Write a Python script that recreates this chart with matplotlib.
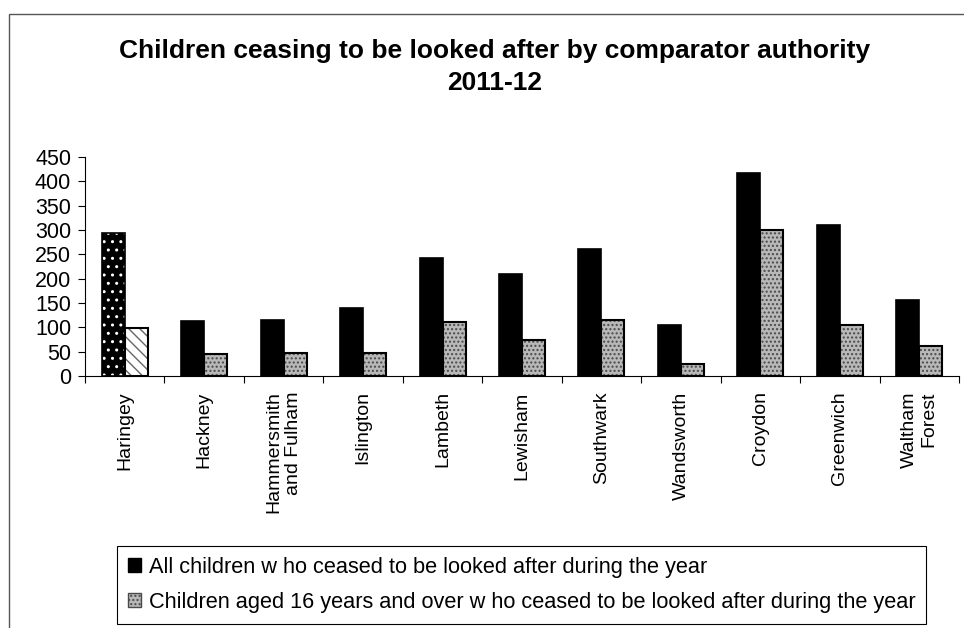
import matplotlib
matplotlib.use("Agg")
import matplotlib.pyplot as plt
import numpy as np
from matplotlib.patches import Rectangle, Patch
from matplotlib import font_manager

categories = ["Haringey", "Hackney", "Hammersmith\nand Fulham", "Islington", "Lambeth",
              "Lewisham", "Southwark", "Wandsworth", "Croydon", "Greenwich", "Waltham\nForest"]
all_children = [293, 112, 116, 140, 243, 210, 260, 104, 417, 310, 156]
aged16_over = [99, 45, 48, 48, 110, 74, 116, 25, 301, 104, 62]
series_names = ["All children w ho ceased to be looked after during the year",
                "Children aged 16 years and over w ho ceased to be looked after during the year"]
title = "Children ceasing to be looked after by comparator authority\n2011-12"
yticks = [0, 50, 100, 150, 200, 250, 300, 350, 400, 450]

names = {f.name for f in font_manager.fontManager.ttflist}
base = "Liberation Sans" if "Liberation Sans" in names else "DejaVu Sans"
plt.rcParams['font.family'] = [base, 'DejaVu Sans']
plt.rcParams['hatch.linewidth'] = 1.0

W, H = 964, 628
fig = plt.figure(figsize=(W / 100, H / 100), dpi=100)
ax = fig.add_axes([85 / W, 1 - 376 / H, (959 - 85) / W, (376 - 157) / H])

x = np.arange(len(categories))
bw = 0.29
gray = "#b8b8b8"

# series 1
for i, v in enumerate(all_children):
    if i == 0:
        ax.bar(x[i] - bw / 2, v, bw, color="black", hatch="..", edgecolor="white", linewidth=0)
        ax.bar(x[i] - bw / 2, v, bw, fill=False, edgecolor="black", linewidth=1.2)
    else:
        ax.bar(x[i] - bw / 2, v, bw, color="black", edgecolor="black", linewidth=1.2)
# series 2
for i, v in enumerate(aged16_over):
    if i == 0:
        ax.bar(x[i] + bw / 2, v, bw, color="white", hatch="\\\\\\", edgecolor="#666666", linewidth=0)
    else:
        ax.bar(x[i] + bw / 2, v, bw, color=gray, hatch="....", edgecolor="#4a4a4a", linewidth=0)
    ax.bar(x[i] + bw / 2, v, bw, fill=False, edgecolor="black", linewidth=1.5)

ax.set_xlim(-0.5, len(categories) - 0.5)
ax.set_ylim(0, 450)
ax.set_yticks(yticks)
ax.set_yticklabels([str(t) for t in yticks], fontsize=15.5)
ax.tick_params(axis="y", direction="out", length=5, width=0.8, pad=5)
ax.set_xticks(x)
ax.set_xticklabels(categories, rotation=90, fontsize=14, va="top", ha="center", ma="right")
ax.tick_params(axis="x", which="major", length=0, pad=11)
ax.set_xticks(np.arange(len(categories) + 1) - 0.5, minor=True)
ax.tick_params(axis="x", which="minor", direction="out", length=5, width=0.8)
for s in ["top", "right"]:
    ax.spines[s].set_visible(False)
for s in ["left", "bottom"]:
    ax.spines[s].set_linewidth(0.8)

fig.text(0.513, 1 - 39 / H, title, ha="center", va="top", fontsize=19, fontweight="bold",
         linespacing=1.4)

handles = [Patch(facecolor="black", edgecolor="black"),
           Patch(facecolor=gray, hatch="....", edgecolor="#4a4a4a")]
leg = fig.legend(handles, series_names, loc="upper left", bbox_to_anchor=(117 / W, 1 - 546 / H),
                 frameon=True, fancybox=False, edgecolor="black", framealpha=1,
                 prop={"size": 15.7}, handlelength=0.6, handleheight=0.6,
                 handletextpad=0.35, labelspacing=0.65, borderpad=0.5, borderaxespad=0)
leg.get_frame().set_linewidth(0.8)

border = Rectangle((9 / W, -0.05), 1.1, 1 - 14 / H + 0.05, transform=fig.transFigure,
                   fill=False, edgecolor="#555555", linewidth=1.0, clip_on=False)
fig.patches.append(border)

fig.savefig("out.png", dpi=100)
